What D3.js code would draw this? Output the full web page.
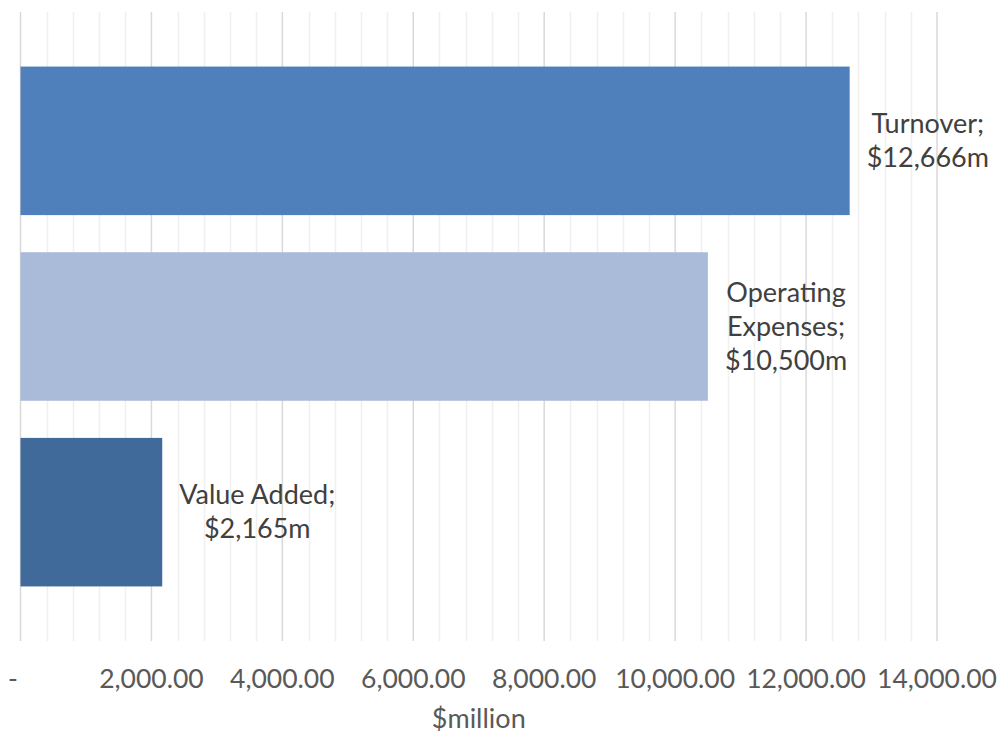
<!DOCTYPE html>
<html><head><meta charset="utf-8">
<script src="https://cdn.jsdelivr.net/npm/d3@7"></script>
<style>body{margin:0;background:#fff}svg{display:block}text{font-family:Lato,"Open Sans",sans-serif}</style>
</head><body>
<svg id="c" width="1000" height="736"></svg>
<script>
const categories = ["Turnover", "Operating Expenses", "Value Added"];
const values = [12666, 10500, 2165];
const labelLines = [["Turnover;", "$12,666m"], ["Operating", "Expenses;", "$10,500m"], ["Value Added;", "$2,165m"]];
const colors = ["#4f80bb", "#aabad9", "#406a9a"];
const tickValues = [0, 2000, 4000, 6000, 8000, 10000, 12000, 14000];
const axisTitle = "$million";

const svg = d3.select("#c");
const plotTop = 12, plotBottom = 641;
const x = d3.scaleLinear().domain([0, 14000]).range([20.5, 937]);
const y = d3.scaleBand().domain(categories).range([48, 605]).paddingInner(0.2).paddingOuter(0.1);

// minor gridlines
const minor = d3.range(0, 14001, 400).filter(v => v % 2000 !== 0);
svg.append("g").selectAll("line").data(minor).join("line")
  .attr("x1", d => Math.round(x(d)) + 0.5).attr("x2", d => Math.round(x(d)) + 0.5)
  .attr("y1", plotTop).attr("y2", plotBottom)
  .attr("stroke", "#f0f0f0").attr("stroke-width", 1.5);
// major gridlines
svg.append("g").selectAll("line").data(tickValues).join("line")
  .attr("x1", d => x(d)).attr("x2", d => x(d))
  .attr("y1", plotTop).attr("y2", plotBottom)
  .attr("stroke", "#d9d9d9").attr("stroke-width", 1.5);

// bars
svg.append("g").selectAll("rect").data(categories).join("rect")
  .attr("x", x(0)).attr("y", d => y(d))
  .attr("width", (d, i) => x(values[i]) - x(0))
  .attr("height", y.bandwidth())
  .attr("fill", (d, i) => colors[i]);

// data labels
const lh = 34, fs = 27;
categories.forEach((c, i) => {
  const t = svg.append("text").attr("font-size", fs).attr("fill", "#404040").attr("text-anchor", "middle");
  const n = labelLines[i].length;
  const cy = y(c) + y.bandwidth() / 2;
  labelLines[i].forEach((s, j) => {
    t.append("tspan").text(s).attr("x", 0).attr("y", cy + (j - (n - 1) / 2) * lh + 9);
  });
  let w = 0;
  t.selectAll("tspan").each(function() { w = Math.max(w, this.getComputedTextLength()); });
  const cx = x(values[i]) + 17 + w / 2;
  t.selectAll("tspan").attr("x", cx);
});

// x axis tick labels
const fmt = d3.format(",.2f");
svg.append("g").selectAll("text").data(tickValues).join("text")
  .attr("x", d => d === 0 ? 13 : x(d)).attr("y", 688)
  .attr("text-anchor", "middle").attr("font-size", 26.5).attr("fill", "#595959")
  .text(d => d === 0 ? "-" : fmt(d));

svg.append("text").attr("x", (x(0) + x(14000)) / 2).attr("y", 728)
  .attr("text-anchor", "middle").attr("font-size", 27).attr("fill", "#595959")
  .text(axisTitle);
</script>
</body></html>
